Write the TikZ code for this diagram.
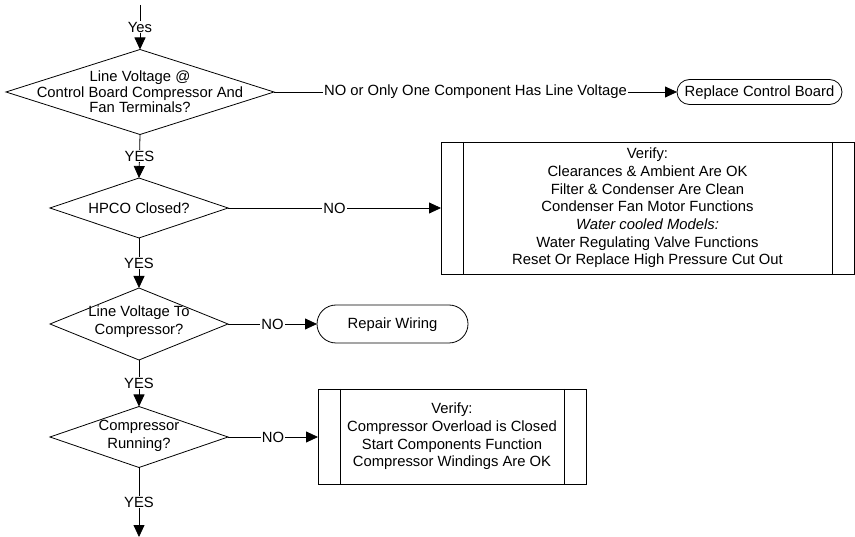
\documentclass[tikz,border=0pt]{standalone}
\usepackage{fontspec}
\setmainfont{Liberation Sans}
\usetikzlibrary{arrows.meta,shapes.geometric}
\begin{document}
\begin{tikzpicture}[x=1pt,y=-1pt,
  every node/.style={font=\fontsize{14.8}{17.7}\selectfont, text=black},
  line/.style={draw=black, line width=0.8pt},
  arr/.style={line, -{Triangle[length=12pt,width=11pt]}},
  dia/.style={shape=diamond, draw=black, line width=0.8pt, inner sep=0pt, outer sep=0pt},
  txt/.style={align=center, inner sep=0pt},
  lbl/.style={fill=white, inner sep=1pt},
  term/.style={shape=rectangle, draw=black, line width=0.8pt, inner sep=0pt, outer sep=0pt, text height=10.6pt, text depth=0.8pt},
  proc/.style={shape=rectangle, draw=black, line width=0.8pt, inner sep=0pt, outer sep=0pt, align=center}
]
\useasboundingbox (0,0) rectangle (855,537);

% decisions
\node[dia, minimum width=268pt, minimum height=85pt] (d1) at (140,92) {};
\node[txt] (d1t) at (140,92) {Line Voltage @\\[-2pt]Control Board Compressor And\\[-2pt]Fan Terminals?};
\node[dia, minimum width=178pt, minimum height=60pt] (d2) at (139,208) {};
\node[txt] (d2t) at (139,208) {HPCO Closed?};
\node[dia, minimum width=178pt, minimum height=72pt] (d3) at (139,324) {};
\node[txt] (d3t) at (139,322) {Line Voltage To\\Compressor?};
\node[dia, minimum width=178pt, minimum height=61pt] (d4) at (139,437) {};
\node[txt] (d4t) at (139,436) {Compressor\\Running?};

% terminals
\node[term, minimum width=165pt, minimum height=25pt, rounded corners=12.5pt] (r1) at (759.5,92) {Replace Control Board};
\node[term, minimum width=151pt, minimum height=38pt, rounded corners=19pt] (r2) at (392.5,324) {Repair Wiring};

% process boxes
\node[proc, minimum width=413pt, minimum height=132pt] (b3) at (647.5,208)
  {Verify:\\Clearances \& Ambient Are OK\\Filter \& Condenser Are Clean\\Condenser Fan Motor Functions\\\textit{Water cooled Models:}\\Water Regulating Valve Functions\\Reset Or Replace High Pressure Cut Out};
\draw[line] ([xshift=22pt]b3.north west) -- ([xshift=22pt]b3.south west);
\draw[line] ([xshift=-22pt]b3.north east) -- ([xshift=-22pt]b3.south east);

\node[proc, minimum width=268pt, minimum height=95pt] (b4) at (452,436.5)
  {Verify:\\Compressor Overload is Closed\\Start Components Function\\Compressor Windings Are OK};
\draw[line] ([xshift=22pt]b4.north west) -- ([xshift=22pt]b4.south west);
\draw[line] ([xshift=-22pt]b4.north east) -- ([xshift=-22pt]b4.south east);

% free ends
\coordinate (top) at (140,5);
\coordinate (bot) at (139,537);

% connectors
\draw[arr] (top) -- node[lbl] {Yes} (d1.north);
\draw[arr] (d1.south) -- node[lbl] {YES} (d2.north);
\draw[arr] (d2.south) -- node[lbl] {YES} (d3.north);
\draw[arr] (d3.south) -- node[lbl] {YES} (d4.north);
\draw[arr] (d4.south) -- node[lbl] {YES} (bot);

\draw[arr] (d1.east) -- node[lbl] {NO or Only One Component Has Line Voltage} (r1.west);
\draw[arr] (d2.east) -- node[lbl] {NO} (b3.west |- d2.east);
\draw[arr] (d3.east) -- node[lbl] {NO} (r2.west);
\draw[arr] (d4.east) -- node[lbl] {NO} (b4.west |- d4.east);
\end{tikzpicture}
\end{document}
